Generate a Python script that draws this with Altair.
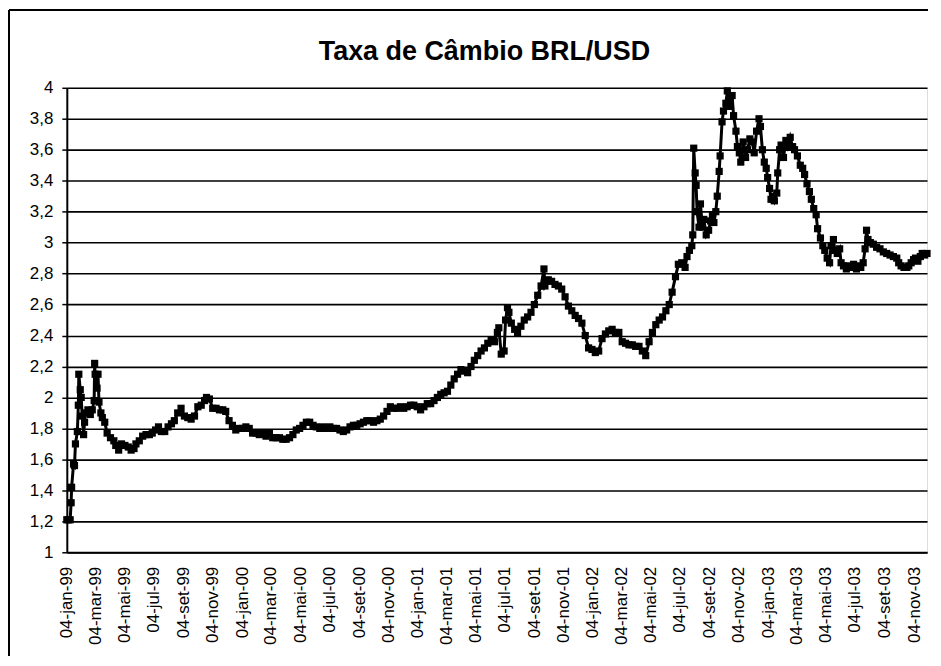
import altair as alt
import pandas as pd

TITLE = "Taxa de Câmbio BRL/USD"

DATES_1999 = ["1999-01-04","1999-01-07","1999-01-11","1999-01-13","1999-01-14","1999-01-18","1999-01-20","1999-01-22","1999-01-26","1999-01-28","1999-01-29",
              "1999-02-01","1999-02-03","1999-02-05","1999-02-08","1999-02-10","1999-02-12","1999-02-17","1999-02-22","1999-02-26",
              "1999-03-02","1999-03-03","1999-03-04","1999-03-08","1999-03-10","1999-03-12","1999-03-16","1999-03-19","1999-03-24","1999-03-29",
              "1999-04-05","1999-04-12","1999-04-16","1999-04-22","1999-04-28","1999-05-05","1999-05-12","1999-05-18","1999-05-24","1999-05-28",
              "1999-06-04","1999-06-11","1999-06-18","1999-06-25","1999-07-01","1999-07-08","1999-07-14","1999-07-20","1999-07-27",
              "1999-08-03","1999-08-10","1999-08-16","1999-08-23","1999-08-30","1999-09-06","1999-09-13","1999-09-20","1999-09-27",
              "1999-10-04","1999-10-11","1999-10-18","1999-10-22","1999-10-28","1999-11-04","1999-11-11","1999-11-18","1999-11-25",
              "1999-12-01","1999-12-08","1999-12-15","1999-12-22","1999-12-29"]
RATES_1999 = [1.21,1.21,1.21,1.32,1.42,1.57,1.56,1.70,1.78,1.95,2.15,
              2.05,2.00,1.88,1.76,1.84,1.90,1.92,1.89,1.92,
              1.98,2.22,2.15,2.06,2.15,1.97,1.90,1.87,1.84,1.77,
              1.74,1.72,1.69,1.66,1.70,1.69,1.68,1.66,1.67,1.70,
              1.72,1.75,1.76,1.76,1.77,1.79,1.81,1.78,1.78,
              1.81,1.83,1.85,1.90,1.93,1.88,1.87,1.86,1.88,
              1.94,1.95,1.98,2.00,1.99,1.93,1.93,1.92,1.92,
              1.91,1.85,1.82,1.79,1.80]

DATES_2000 = ["2000-01-05","2000-01-12","2000-01-19","2000-01-26","2000-02-02","2000-02-09","2000-02-16","2000-02-23",
              "2000-03-01","2000-03-08","2000-03-15","2000-03-22","2000-03-29","2000-04-05","2000-04-12","2000-04-19","2000-04-26",
              "2000-05-03","2000-05-10","2000-05-17","2000-05-24","2000-05-31","2000-06-07","2000-06-14","2000-06-21","2000-06-28",
              "2000-07-05","2000-07-12","2000-07-19","2000-07-26","2000-08-02","2000-08-09","2000-08-16","2000-08-23","2000-08-30",
              "2000-09-06","2000-09-13","2000-09-20","2000-09-27","2000-10-04","2000-10-11","2000-10-18","2000-10-25",
              "2000-11-01","2000-11-08","2000-11-15","2000-11-22","2000-11-29","2000-12-06","2000-12-13","2000-12-20","2000-12-27"]
RATES_2000 = [1.80,1.81,1.80,1.77,1.77,1.76,1.77,1.75,
              1.77,1.74,1.74,1.74,1.73,1.73,1.74,1.76,1.79,
              1.80,1.82,1.84,1.84,1.82,1.81,1.80,1.81,1.80,
              1.81,1.80,1.80,1.79,1.78,1.79,1.81,1.82,1.82,
              1.83,1.84,1.85,1.85,1.84,1.85,1.86,1.88,
              1.91,1.94,1.93,1.93,1.94,1.93,1.94,1.95,1.95]

DATES_2001 = ["2001-01-03","2001-01-10","2001-01-17","2001-01-24","2001-01-31","2001-02-07","2001-02-14","2001-02-21","2001-02-28",
              "2001-03-07","2001-03-14","2001-03-21","2001-03-28","2001-04-04","2001-04-11","2001-04-18","2001-04-25",
              "2001-05-02","2001-05-09","2001-05-16","2001-05-23","2001-05-30","2001-06-06","2001-06-13","2001-06-19","2001-06-22","2001-06-27",
              "2001-07-03","2001-07-06","2001-07-10","2001-07-13","2001-07-18","2001-07-25","2001-07-31",
              "2001-08-07","2001-08-14","2001-08-21","2001-08-28","2001-09-04","2001-09-11","2001-09-18","2001-09-24","2001-09-26",
              "2001-10-03","2001-10-10","2001-10-17","2001-10-24","2001-10-31","2001-11-07","2001-11-14","2001-11-21","2001-11-28",
              "2001-12-05","2001-12-12","2001-12-19","2001-12-26"]
RATES_2001 = [1.94,1.92,1.94,1.96,1.96,1.98,2.00,2.02,2.03,
              2.04,2.08,2.12,2.15,2.18,2.17,2.16,2.20,
              2.24,2.27,2.30,2.32,2.35,2.37,2.36,2.42,2.45,2.28,
              2.30,2.50,2.58,2.55,2.48,2.44,2.42,
              2.46,2.50,2.52,2.55,2.60,2.66,2.72,2.83,2.72,
              2.76,2.75,2.73,2.72,2.70,2.65,2.59,2.56,2.53,
              2.51,2.48,2.40,2.32]

DATES_2002 = ["2002-01-02","2002-01-09","2002-01-16","2002-01-23","2002-01-30","2002-02-06","2002-02-13","2002-02-20","2002-02-27",
              "2002-03-06","2002-03-13","2002-03-20","2002-03-27","2002-04-03","2002-04-10","2002-04-17","2002-04-24",
              "2002-05-01","2002-05-08","2002-05-15","2002-05-22","2002-05-29","2002-06-05","2002-06-12","2002-06-18","2002-06-25",
              "2002-07-01","2002-07-08","2002-07-15","2002-07-19","2002-07-24","2002-07-29","2002-07-31",
              "2002-08-02","2002-08-05","2002-08-07","2002-08-09","2002-08-13","2002-08-16","2002-08-20","2002-08-23","2002-08-28",
              "2002-09-02","2002-09-06","2002-09-10","2002-09-13","2002-09-17","2002-09-20","2002-09-24","2002-09-26","2002-09-30",
              "2002-10-03","2002-10-08","2002-10-11","2002-10-16","2002-10-21","2002-10-24","2002-10-29",
              "2002-11-01","2002-11-05","2002-11-08","2002-11-13","2002-11-18","2002-11-22","2002-11-27",
              "2002-12-02","2002-12-06","2002-12-11","2002-12-16","2002-12-19","2002-12-23","2002-12-27","2002-12-31"]
RATES_2002 = [2.31,2.29,2.30,2.38,2.41,2.43,2.44,2.42,2.42,
              2.36,2.35,2.34,2.34,2.33,2.33,2.30,2.27,
              2.36,2.42,2.47,2.50,2.52,2.56,2.60,2.68,2.78,
              2.86,2.87,2.84,2.91,2.95,2.98,3.05,
              3.61,3.45,3.37,3.20,3.10,3.25,3.10,3.15,3.05,
              3.08,3.14,3.18,3.13,3.20,3.30,3.46,3.56,3.78,
              3.85,3.90,3.98,3.88,3.95,3.82,3.72,
              3.62,3.58,3.52,3.65,3.55,3.60,3.67,
              3.65,3.58,3.72,3.80,3.75,3.60,3.52,3.48]

DATES_2003 = ["2003-01-03","2003-01-07","2003-01-10","2003-01-14","2003-01-17","2003-01-22","2003-01-24","2003-01-28","2003-01-31",
              "2003-02-05","2003-02-10","2003-02-14","2003-02-19","2003-02-24","2003-02-28",
              "2003-03-06","2003-03-12","2003-03-17","2003-03-21","2003-03-26","2003-03-31",
              "2003-04-04","2003-04-09","2003-04-14","2003-04-17","2003-04-23","2003-04-28",
              "2003-05-02","2003-05-07","2003-05-12","2003-05-15","2003-05-20","2003-05-23","2003-05-28",
              "2003-06-02","2003-06-05","2003-06-10","2003-06-16","2003-06-20","2003-06-26",
              "2003-07-01","2003-07-07","2003-07-11","2003-07-16","2003-07-21","2003-07-25","2003-07-28","2003-07-31",
              "2003-08-05","2003-08-11","2003-08-18","2003-08-25","2003-09-01","2003-09-08","2003-09-15","2003-09-22","2003-09-29",
              "2003-10-03","2003-10-08","2003-10-14","2003-10-20","2003-10-24","2003-10-29",
              "2003-11-03","2003-11-07","2003-11-12","2003-11-17","2003-11-21","2003-11-26","2003-12-01"]
RATES_2003 = [3.42,3.35,3.28,3.30,3.27,3.32,3.45,3.60,3.63,
              3.55,3.66,3.62,3.68,3.62,3.60,
              3.56,3.50,3.48,3.44,3.38,3.33,
              3.28,3.22,3.18,3.09,3.03,2.98,
              2.95,2.90,2.87,2.98,3.02,2.95,2.93,
              2.96,2.87,2.85,2.83,2.85,2.84,
              2.86,2.83,2.85,2.84,2.87,2.96,3.08,3.02,
              3.00,2.99,2.97,2.96,2.94,2.93,2.92,2.91,2.90,
              2.87,2.85,2.84,2.84,2.85,2.87,
              2.89,2.90,2.88,2.91,2.93,2.92,2.93]

X_START = "1999-01-04"
X_END = "2003-12-01"
X_TICKS = ["1999-01-04","1999-03-04","1999-05-04","1999-07-04","1999-09-04","1999-11-04",
           "2000-01-04","2000-03-04","2000-05-04","2000-07-04","2000-09-04","2000-11-04",
           "2001-01-04","2001-03-04","2001-05-04","2001-07-04","2001-09-04","2001-11-04",
           "2002-01-04","2002-03-04","2002-05-04","2002-07-04","2002-09-04","2002-11-04",
           "2003-01-04","2003-03-04","2003-05-04","2003-07-04","2003-09-04","2003-11-04"]
MONTHS_PT = ["jan","fev","mar","abr","mai","jun","jul","ago","set","out","nov","dez"]
Y_TICKS = [1.0, 1.2, 1.4, 1.6, 1.8, 2.0, 2.2, 2.4, 2.6, 2.8, 3.0, 3.2, 3.4, 3.6, 3.8, 4.0]


def ms(s):
    return int(pd.Timestamp(s, tz="UTC").timestamp() * 1000)


dates = DATES_1999 + DATES_2000 + DATES_2001 + DATES_2002 + DATES_2003
rates = RATES_1999 + RATES_2000 + RATES_2001 + RATES_2002 + RATES_2003
df = pd.DataFrame({"t": [ms(d) for d in dates], "v": rates})

FONT = "Liberation Sans"
W, H = 863, 466

months_expr = "[" + ",".join("'%s'" % m for m in MONTHS_PT) + "]"
x_label_expr = ("utcFormat(datum.value, '%d') + '-' + " + months_expr +
                "[utcmonth(datum.value)] + '-' + utcFormat(datum.value, '%y')")

x_axis = alt.Axis(values=[ms(d) for d in X_TICKS], tickCount=len(X_TICKS) + 5,
                  labelExpr=x_label_expr,
                  labelAngle=-90, ticks=False, grid=False, labelPadding=14,
                  labelFont=FONT, labelFontSize=17, labelColor="black",
                  domainColor="black", domainWidth=2, labelOverlap=False,
                  labelFlush=False)
y_axis = alt.Axis(values=Y_TICKS, tickCount=len(Y_TICKS) + 5,
                  labelExpr="replace(format(datum.value, '.1~f'), '.', ',')",
                  grid=True, gridColor="black", gridWidth=1.6, gridOpacity=1,
                  ticks=True, tickSize=5, tickColor="black", tickWidth=1.5,
                  labelPadding=9, labelFont=FONT, labelFontSize=17,
                  labelColor="black", domainColor="black", domainWidth=2,
                  labelOverlap=False, labelFlush=False)

x_enc = alt.X("t:T", title=None,
              scale=alt.Scale(type="utc", domain=[ms(X_START), ms(X_END)]),
              axis=x_axis)
y_enc = alt.Y("v:Q", title=None,
              scale=alt.Scale(domain=[1, 4], nice=False, zero=False),
              axis=y_axis)

base = alt.Chart(df)
line = base.mark_line(color="black", strokeWidth=3).encode(x=x_enc, y=y_enc)
pts = base.mark_point(shape="square", filled=True, size=52, color="black",
                      opacity=1).encode(x=x_enc, y=y_enc)

one = pd.DataFrame({"k": [0]})
title = alt.Chart(one).mark_text(text=TITLE, font=FONT, fontSize=27, fontWeight="bold",
                                 color="black", align="center", baseline="alphabetic").encode(
    x=alt.value(419), y=alt.value(-28))
border_left = alt.Chart(one).mark_rule(color="black", strokeWidth=2).encode(
    x=alt.value(-58), y=alt.value(-78), y2=alt.value(570))
border_top = alt.Chart(one).mark_rule(color="black", strokeWidth=2).encode(
    x=alt.value(-58), x2=alt.value(W + 1), y=alt.value(-78))

chart = alt.layer(line, pts, title, border_left, border_top).properties(
    width=W, height=H, padding={"left": 0, "top": 0, "right": 0, "bottom": 0}
).configure_view(stroke="black", strokeWidth=1.5).configure(background="white")

chart.save("out.html", embed_options={"renderer": "svg", "actions": False})
